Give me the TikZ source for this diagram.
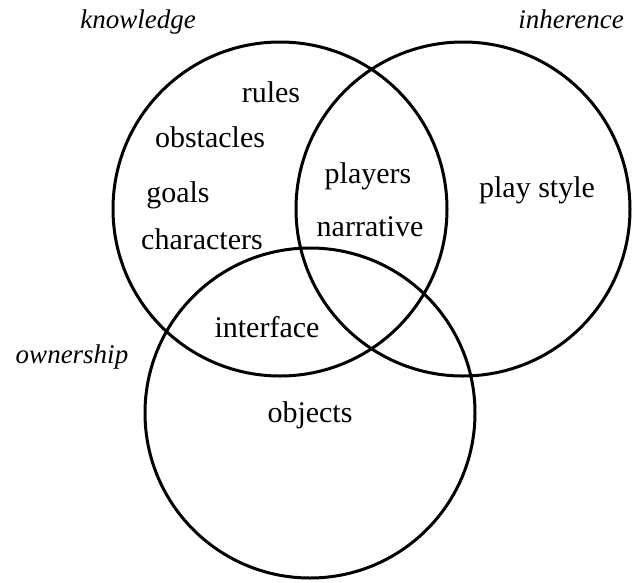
\documentclass[tikz,border=0pt]{standalone}
\usepackage{fontspec}
\setmainfont{Liberation Serif}
\begin{document}
\begin{tikzpicture}[x=1pt,y=-1pt,
  ring/.style={draw=black,line width=3pt},
  word/.style={anchor=base,inner sep=0pt,font=\fontsize{30}{32}\selectfont},
  setname/.style={anchor=base,inner sep=0pt,font=\fontsize{27}{30}\selectfont\itshape}]
\useasboundingbox (0,0) rectangle (643,582);
\draw[ring] (280,209) circle[radius=167];
\draw[ring] (463,209) circle[radius=167];
\draw[ring] (310,413) circle[radius=165];
\node[setname] (kn) at (138,28) {knowledge};
\node[setname] (inh) at (571,28) {inherence};
\node[setname] (own) at (72,363) {ownership};
\node[word] (rules) at (271,102) {rules};
\node[word] (obst) at (210,147) {obstacles};
\node[word] (goals) at (178,202) {goals};
\node[word] (chars) at (202,249) {characters};
\node[word] (players) at (368,183) {players};
\node[word] (narr) at (370,236) {narrative};
\node[word] (play) at (537,197) {play style};
\node[word] (iface) at (267,337) {interface};
\node[word] (obj) at (310,422) {objects};
\end{tikzpicture}
\end{document}
